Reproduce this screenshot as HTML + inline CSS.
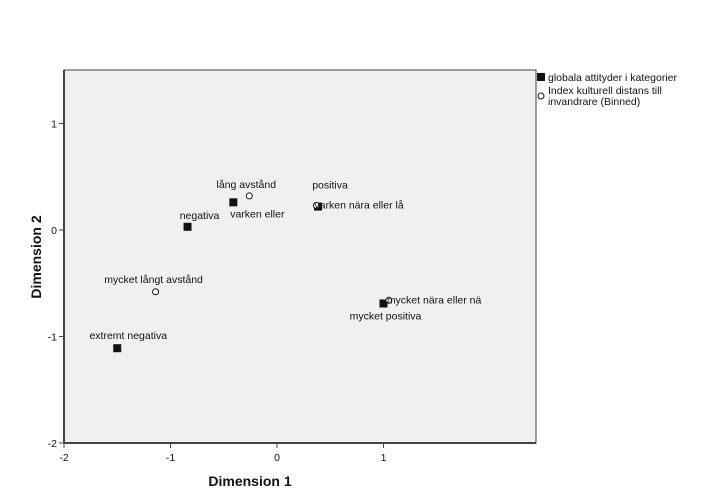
<!DOCTYPE html>
<html><head><meta charset="utf-8"><style>
body{margin:0;background:#fff}
svg{display:block;font-family:"Liberation Sans",Arial,sans-serif}
</style></head><body>
<svg id="chart" width="717" height="504" viewBox="0 0 717 504">
<rect x="64" y="70" width="472" height="373" fill="#f0f0f0" stroke="#444" stroke-width="1"/>
<line x1="64" y1="70" x2="64" y2="443" stroke="#444" stroke-width="2"/>
<line x1="64" y1="443" x2="536" y2="443" stroke="#444" stroke-width="2"/>
<g id="ticks"></g>
<g id="marks"></g>
<text x="250" y="486" text-anchor="middle" font-size="14" font-weight="bold" fill="#111">Dimension 1</text>
<text transform="translate(41,257) rotate(-90)" text-anchor="middle" font-size="14" font-weight="bold" fill="#111">Dimension 2</text>
<g>
<rect x="537" y="73" width="8" height="8" fill="#111"/>
<text x="548" y="81" font-size="10.5" fill="#111">globala attityder i kategorier</text>
<circle cx="541" cy="96" r="3" fill="#fff" stroke="#111"/>
<text x="548" y="94" font-size="10.5" fill="#111">Index kulturell distans till</text>
<text x="548" y="105" font-size="10.5" fill="#111">invandrare (Binned)</text>
</g>
</svg>
<script>
const xTicks=[-2,-1,0,1];
const yTicks=[1,0,-1,-2];
const squareLabels=["extremt negativa","negativa","varken eller","positiva","mycket positiva"];
const squareX=[-1.50,-0.84,-0.41,0.385,1.0];
const squareY=[-1.11,0.03,0.26,0.22,-0.69];
const circleLabels=["mycket långt avstånd","lång avstånd","varken nära eller lå","mycket nära eller nä"];
const circleX=[-1.14,-0.26,0.37,1.05];
const circleY=[-0.58,0.32,0.23,-0.66];
const sqOff=[[11,-9,"middle"],[12,-8,"middle"],[24,15,"middle"],[12,-18,"middle"],[2,16,"middle"]];
const ciOff=[[-2,-9,"middle"],[-3,-8,"middle"],[-2,3,"start"],[-2,3,"start"]];
const xs=v=>277+v*106.5, ys=v=>230-v*106.5;
const NS="http://www.w3.org/2000/svg";
function mk(t,a){const e=document.createElementNS(NS,t);for(const k in a)e.setAttribute(k,a[k]);return e;}
const tg=document.getElementById('ticks'), mg=document.getElementById('marks');
xTicks.forEach(v=>{
 const l=mk('line',{x1:xs(v),x2:xs(v),y1:443,y2:448,stroke:'#444'});
 
 
 tg.appendChild(l);
 const t=mk('text',{x:xs(v),y:461,'text-anchor':'middle','font-size':'10.5',fill:'#111'});t.textContent=v;
 
 
 tg.appendChild(t);
});
yTicks.forEach(v=>{
 const l=mk('line',{x1:59,x2:64,y1:ys(v),y2:ys(v),stroke:'#444'});
 
 
 tg.appendChild(l);
 const t=mk('text',{x:57,y:ys(v)+4,'text-anchor':'end','font-size':'10.5',fill:'#111'});t.textContent=v;
 
 
 tg.appendChild(t);
});
squareX.forEach((v,i)=>{
 const px=xs(v),py=ys(squareY[i]);
 const r=mk('rect',{x:px-4,y:py-4,width:8,height:8,fill:'#111'});
 
 
 mg.appendChild(r);
 const o=sqOff[i];
 const t=mk('text',{x:px+o[0],y:py+o[1],'text-anchor':o[2],'font-size':'10.5',fill:'#111'});t.textContent=squareLabels[i];
 
 
 mg.appendChild(t);
});
circleX.forEach((v,i)=>{
 const px=xs(v),py=ys(circleY[i]);
 const c=mk('circle',{cx:px,cy:py,r:3,fill:'#fff',stroke:'#111'});
 
 
 mg.appendChild(c);
 const o=ciOff[i];
 const t=mk('text',{x:px+o[0],y:py+o[1],'text-anchor':o[2],'font-size':'10.5',fill:'#111'});t.textContent=circleLabels[i];
 
 
 mg.appendChild(t);
});
</script>
</body></html>
